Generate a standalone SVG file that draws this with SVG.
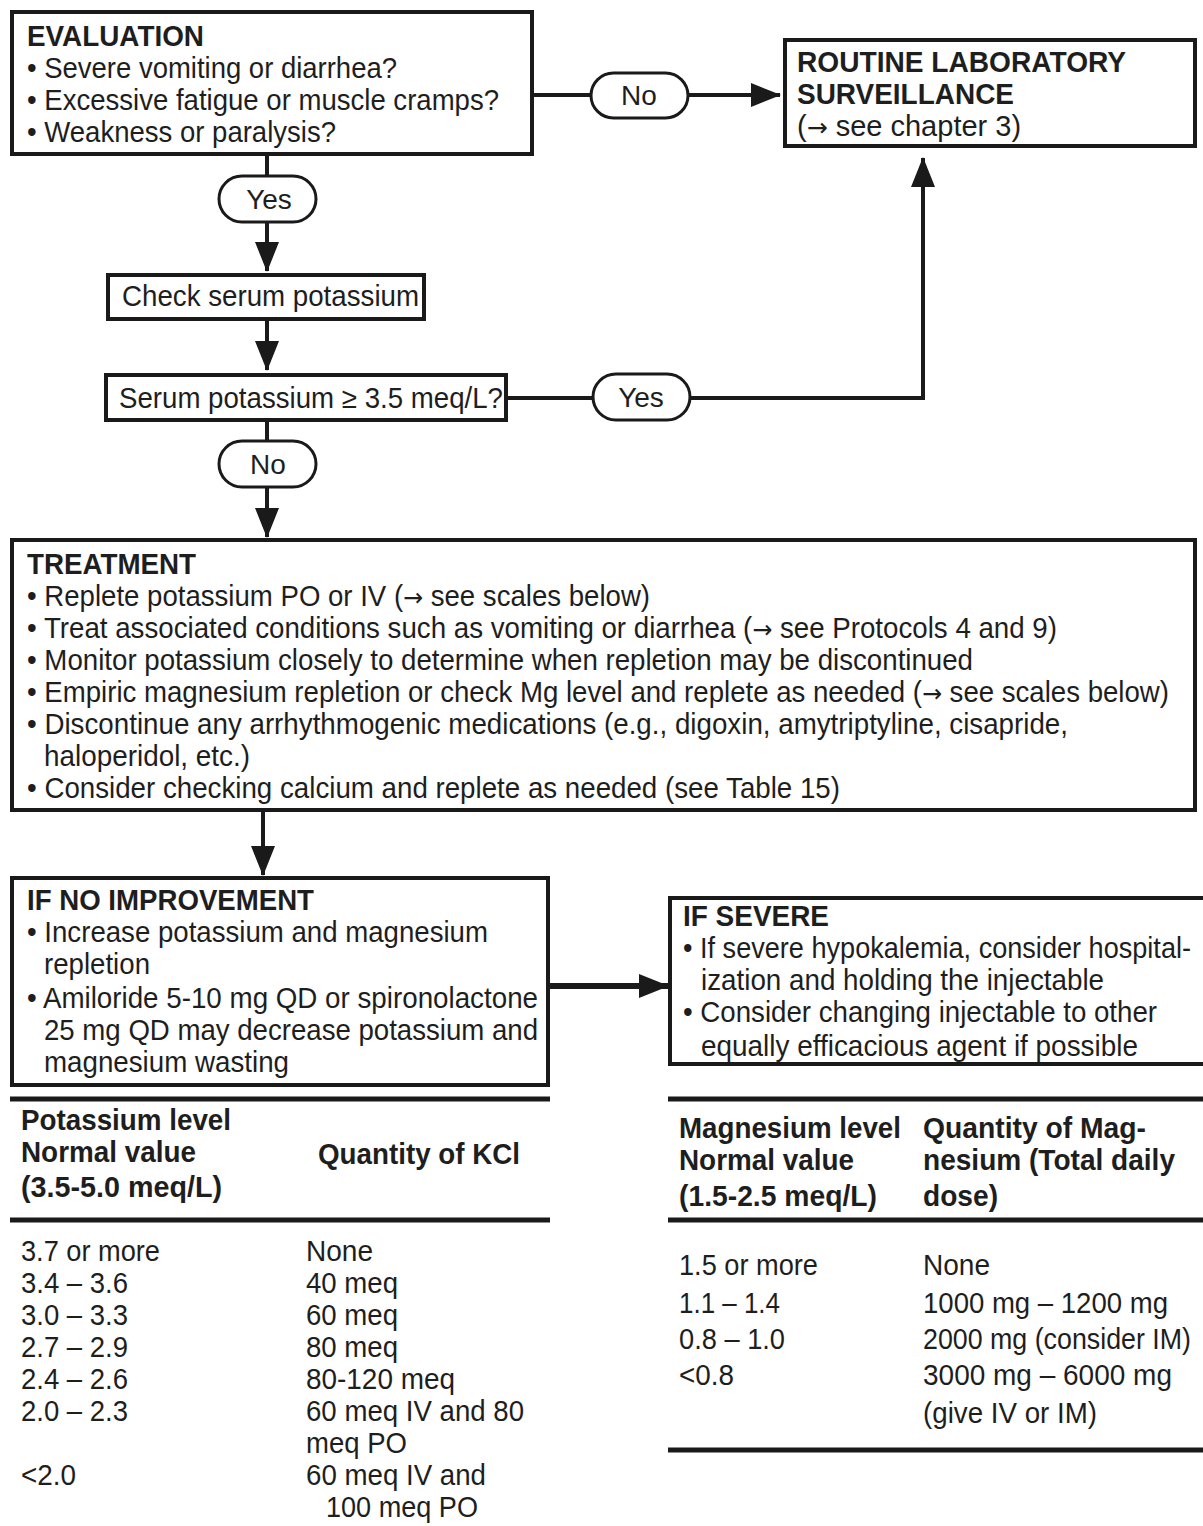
<svg xmlns="http://www.w3.org/2000/svg" width="1203" height="1526" viewBox="0 0 1203 1526">
  <style>
    text { font-family: "Liberation Sans", Arial, sans-serif; font-size: 29px; fill: #1e1e1e; }
    .h { font-weight: bold; }
    .c { text-anchor: middle; font-size: 28px; }
    .ar { font-family: "DejaVu Sans", sans-serif; font-size: 25px; }
    .box { fill: #fff; stroke: #1a1a1a; stroke-width: 4; }
    .pill { fill: #fff; stroke: #1a1a1a; stroke-width: 3; }
    .wire { fill: none; stroke: #1a1a1a; stroke-width: 4; }
    .rule { stroke: #1a1a1a; stroke-width: 5; }
  </style>
  <defs>
    <marker id="ah" viewBox="0 0 30 24" markerWidth="30" markerHeight="24" refX="29" refY="12" orient="auto" markerUnits="userSpaceOnUse">
      <path d="M0,0 L30,12 L0,24 z" fill="#1a1a1a"/>
    </marker>
  </defs>
  <rect width="1203" height="1526" fill="#fff"/>

  <!-- connectors -->
  <g id="connectors">
    <path class="wire" d="M534,95 H592"/>
    <path class="wire" d="M688,95 H780" marker-end="url(#ah)"/>
    <path class="wire" d="M267,156 V176"/>
    <path class="wire" d="M267,222 V271" marker-end="url(#ah)"/>
    <path class="wire" d="M267,320 V370" marker-end="url(#ah)"/>
    <path class="wire" d="M508,398 H593"/>
    <path class="wire" d="M690,398 H923 V158" marker-end="url(#ah)"/>
    <path class="wire" d="M267,422 V441"/>
    <path class="wire" d="M267,487 V537" marker-end="url(#ah)"/>
    <path class="wire" d="M263,812 V875" marker-end="url(#ah)"/>
    <path class="wire" style="stroke-width:6" d="M550,986 H668" marker-end="url(#ah)"/>
  </g>

  <!-- evaluation -->
  <g id="evaluation">
    <rect class="box" x="12" y="12" width="520" height="142"/>
    <text class="h" x="27" y="46" textLength="177" lengthAdjust="spacingAndGlyphs">EVALUATION</text>
    <text x="27" y="78" textLength="370" lengthAdjust="spacingAndGlyphs">• Severe vomiting or diarrhea?</text>
    <text x="27" y="110" textLength="472" lengthAdjust="spacingAndGlyphs">• Excessive fatigue or muscle cramps?</text>
    <text x="27" y="142" textLength="309" lengthAdjust="spacingAndGlyphs">• Weakness or paralysis?</text>
  </g>

  <g id="routine">
    <rect class="box" x="785" y="40" width="410" height="106"/>
    <text class="h" x="797" y="72" textLength="329" lengthAdjust="spacingAndGlyphs">ROUTINE LABORATORY</text>
    <text class="h" x="797" y="104" textLength="217" lengthAdjust="spacingAndGlyphs">SURVEILLANCE</text>
    <text x="797" y="136">(<tspan class="ar">→</tspan> see chapter 3)</text>
  </g>

  <g id="label-no-1">
    <rect class="pill" x="591" y="73" width="97" height="45" rx="22.5"/>
    <text class="c" x="639" y="105">No</text>
  </g>

  <g id="label-yes-1">
    <rect class="pill" x="219" y="176" width="97" height="46" rx="23"/>
    <text class="c" x="269" y="209">Yes</text>
  </g>

  <g id="check-potassium">
    <rect class="box" x="108" y="275" width="316" height="44"/>
    <text x="122" y="306" textLength="297" lengthAdjust="spacingAndGlyphs">Check serum potassium</text>
  </g>

  <g id="potassium-test">
    <rect class="box" x="106" y="375" width="400" height="45"/>
    <text x="119" y="408" textLength="384" lengthAdjust="spacingAndGlyphs">Serum potassium ≥ 3.5 meq/L?</text>
  </g>

  <g id="label-yes-2">
    <rect class="pill" x="593" y="374" width="97" height="46" rx="23"/>
    <text class="c" x="641" y="407">Yes</text>
  </g>

  <g id="label-no-2">
    <rect class="pill" x="219" y="441" width="97" height="46" rx="23"/>
    <text class="c" x="268" y="474">No</text>
  </g>

  <!-- treatment -->
  <g id="treatment">
    <rect class="box" x="12" y="540" width="1183" height="270"/>
    <text class="h" x="27" y="574" textLength="169" lengthAdjust="spacingAndGlyphs">TREATMENT</text>
    <text x="27" y="606" textLength="623" lengthAdjust="spacingAndGlyphs">• Replete potassium PO or IV (<tspan class="ar">→</tspan> see scales below)</text>
    <text x="27" y="638" textLength="1030" lengthAdjust="spacingAndGlyphs">• Treat associated conditions such as vomiting or diarrhea (<tspan class="ar">→</tspan> see Protocols 4 and 9)</text>
    <text x="27" y="670" textLength="946" lengthAdjust="spacingAndGlyphs">• Monitor potassium closely to determine when repletion may be discontinued</text>
    <text x="27" y="702" textLength="1142" lengthAdjust="spacingAndGlyphs">• Empiric magnesium repletion or check Mg level and replete as needed (<tspan class="ar">→</tspan> see scales below)</text>
    <text x="27" y="734" textLength="1041" lengthAdjust="spacingAndGlyphs">• Discontinue any arrhythmogenic medications (e.g., digoxin, amytriptyline, cisapride,</text>
    <text x="44" y="766" textLength="206" lengthAdjust="spacingAndGlyphs">haloperidol, etc.)</text>
    <text x="27" y="798" textLength="813" lengthAdjust="spacingAndGlyphs">• Consider checking calcium and replete as needed (see Table 15)</text>
  </g>

  <g id="no-improvement">
    <rect class="box" x="12" y="878" width="536" height="207"/>
    <text class="h" x="27" y="910" textLength="287" lengthAdjust="spacingAndGlyphs">IF NO IMPROVEMENT</text>
    <text x="27" y="942" textLength="461" lengthAdjust="spacingAndGlyphs">• Increase potassium and magnesium</text>
    <text x="44" y="974" textLength="106" lengthAdjust="spacingAndGlyphs">repletion</text>
    <text x="27" y="1008" textLength="511" lengthAdjust="spacingAndGlyphs">• Amiloride 5-10 mg QD or spironolactone</text>
    <text x="44" y="1040" textLength="494" lengthAdjust="spacingAndGlyphs">25 mg QD may decrease potassium and</text>
    <text x="44" y="1072" textLength="245" lengthAdjust="spacingAndGlyphs">magnesium wasting</text>
  </g>

  <g id="if-severe">
    <rect class="box" x="670" y="898" width="540" height="166"/>
    <text class="h" x="683" y="926" textLength="146" lengthAdjust="spacingAndGlyphs">IF SEVERE</text>
    <text x="683" y="958" textLength="508" lengthAdjust="spacingAndGlyphs">• If severe hypokalemia, consider hospital-</text>
    <text x="701" y="990" textLength="403" lengthAdjust="spacingAndGlyphs">ization and holding the injectable</text>
    <text x="683" y="1022" textLength="474" lengthAdjust="spacingAndGlyphs">• Consider changing injectable to other</text>
    <text x="701" y="1056" textLength="437" lengthAdjust="spacingAndGlyphs">equally efficacious agent if possible</text>
  </g>

  <!-- potassium scale -->
  <g id="potassium-table">
    <line class="rule" x1="10" y1="1099" x2="550" y2="1099"/>
    <line class="rule" x1="10" y1="1220" x2="550" y2="1220"/>
    <text class="h" x="21" y="1130" textLength="210" lengthAdjust="spacingAndGlyphs">Potassium level</text>
    <text class="h" x="21" y="1162" textLength="175" lengthAdjust="spacingAndGlyphs">Normal value</text>
    <text class="h" x="21" y="1197" textLength="201" lengthAdjust="spacingAndGlyphs">(3.5-5.0 meq/L)</text>
    <text class="h" x="318" y="1164" textLength="202" lengthAdjust="spacingAndGlyphs">Quantity of KCl</text>
    <text x="21" y="1261" textLength="139" lengthAdjust="spacingAndGlyphs">3.7 or more</text>
    <text x="21" y="1293" textLength="107" lengthAdjust="spacingAndGlyphs">3.4 – 3.6</text>
    <text x="21" y="1325" textLength="107" lengthAdjust="spacingAndGlyphs">3.0 – 3.3</text>
    <text x="21" y="1357" textLength="107" lengthAdjust="spacingAndGlyphs">2.7 – 2.9</text>
    <text x="21" y="1389" textLength="107" lengthAdjust="spacingAndGlyphs">2.4 – 2.6</text>
    <text x="21" y="1421" textLength="107" lengthAdjust="spacingAndGlyphs">2.0 – 2.3</text>
    <text x="21" y="1485" textLength="55" lengthAdjust="spacingAndGlyphs">&lt;2.0</text>
    <text x="306" y="1261" textLength="67" lengthAdjust="spacingAndGlyphs">None</text>
    <text x="306" y="1293" textLength="92" lengthAdjust="spacingAndGlyphs">40 meq</text>
    <text x="306" y="1325" textLength="92" lengthAdjust="spacingAndGlyphs">60 meq</text>
    <text x="306" y="1357" textLength="92" lengthAdjust="spacingAndGlyphs">80 meq</text>
    <text x="306" y="1389" textLength="149" lengthAdjust="spacingAndGlyphs">80-120 meq</text>
    <text x="306" y="1421" textLength="218" lengthAdjust="spacingAndGlyphs">60 meq IV and 80</text>
    <text x="306" y="1453" textLength="101" lengthAdjust="spacingAndGlyphs">meq PO</text>
    <text x="306" y="1485" textLength="180" lengthAdjust="spacingAndGlyphs">60 meq IV and</text>
    <text x="326" y="1517" textLength="152" lengthAdjust="spacingAndGlyphs">100 meq PO</text>
  </g>

  <!-- magnesium scale -->
  <g id="magnesium-table">
    <line class="rule" x1="668" y1="1099" x2="1203" y2="1099"/>
    <line class="rule" x1="668" y1="1220" x2="1203" y2="1220"/>
    <line class="rule" x1="668" y1="1450" x2="1203" y2="1450"/>
    <text class="h" x="679" y="1138" textLength="222" lengthAdjust="spacingAndGlyphs">Magnesium level</text>
    <text class="h" x="679" y="1170" textLength="175" lengthAdjust="spacingAndGlyphs">Normal value</text>
    <text class="h" x="679" y="1206" textLength="198" lengthAdjust="spacingAndGlyphs">(1.5-2.5 meq/L)</text>
    <text class="h" x="923" y="1138" textLength="223" lengthAdjust="spacingAndGlyphs">Quantity of Mag-</text>
    <text class="h" x="923" y="1170" textLength="252" lengthAdjust="spacingAndGlyphs">nesium (Total daily</text>
    <text class="h" x="923" y="1206" textLength="75" lengthAdjust="spacingAndGlyphs">dose)</text>
    <text x="679" y="1275" textLength="139" lengthAdjust="spacingAndGlyphs">1.5 or more</text>
    <text x="679" y="1313" textLength="101" lengthAdjust="spacingAndGlyphs">1.1 – 1.4</text>
    <text x="679" y="1349" textLength="106" lengthAdjust="spacingAndGlyphs">0.8 – 1.0</text>
    <text x="679" y="1385" textLength="55" lengthAdjust="spacingAndGlyphs">&lt;0.8</text>
    <text x="923" y="1275" textLength="67" lengthAdjust="spacingAndGlyphs">None</text>
    <text x="923" y="1313" textLength="245" lengthAdjust="spacingAndGlyphs">1000 mg – 1200 mg</text>
    <text x="923" y="1349" textLength="268" lengthAdjust="spacingAndGlyphs">2000 mg (consider IM)</text>
    <text x="923" y="1385" textLength="249" lengthAdjust="spacingAndGlyphs">3000 mg – 6000 mg</text>
    <text x="923" y="1423" textLength="174" lengthAdjust="spacingAndGlyphs">(give IV or IM)</text>
  </g>
</svg>
